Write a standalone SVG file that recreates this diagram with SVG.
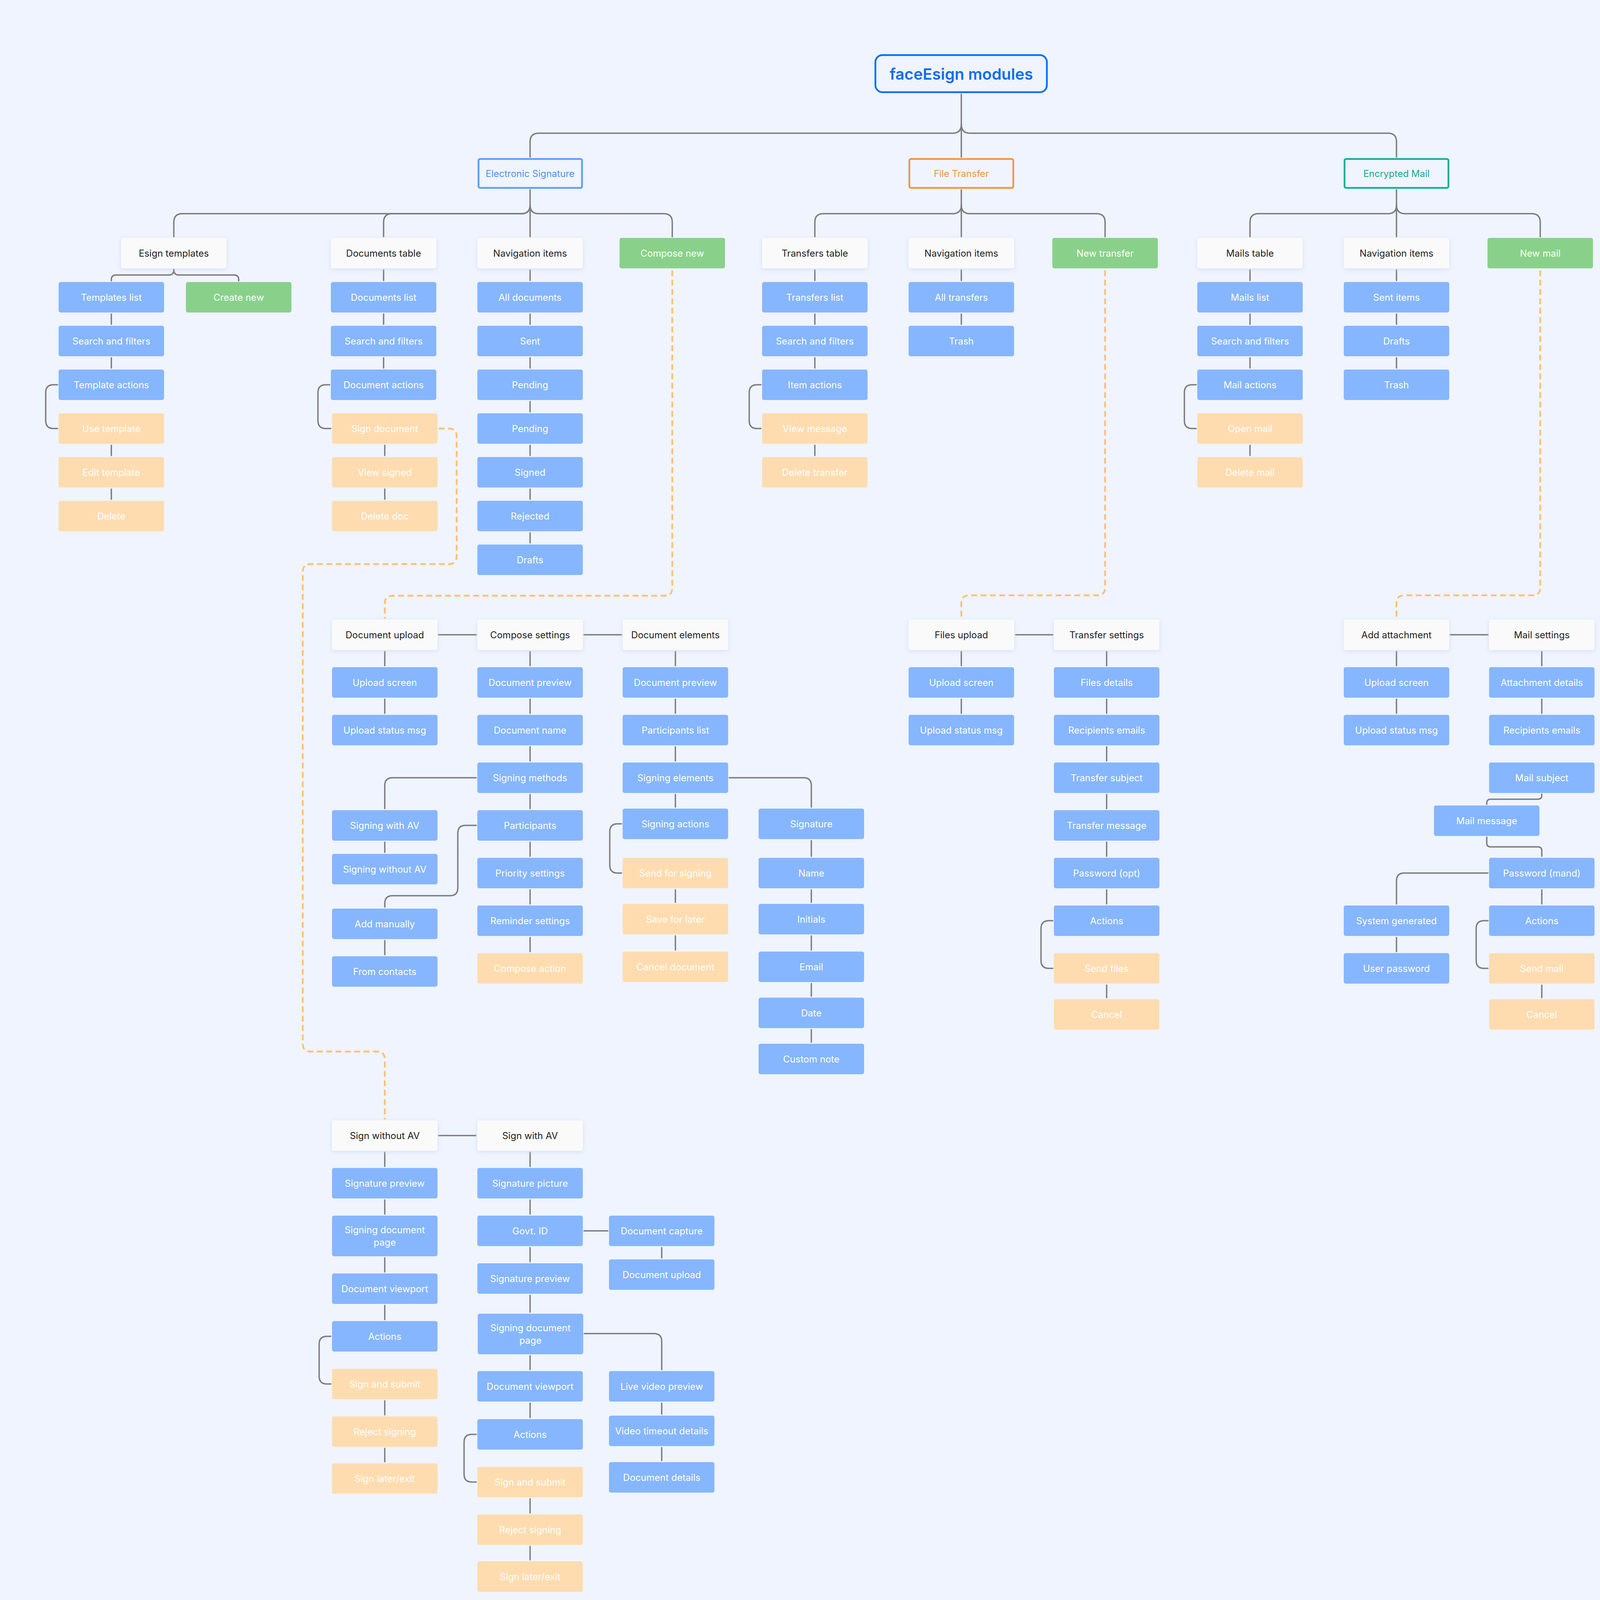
<svg xmlns="http://www.w3.org/2000/svg" width="4209" height="4201" viewBox="0 0 4209 4201">
<defs>
<filter id="sh" x="-20%" y="-30%" width="140%" height="170%"><feDropShadow dx="0" dy="3" stdDeviation="6" flood-color="#C4D2F2" flood-opacity="0.6"/></filter>
</defs>
<style>
.b{fill:#86B6FF}
.p{fill:#FFDCB0}
.g{fill:#89D18A}
.w{fill:#FAFAFA;filter:url(#sh)}
text{font-family:Inter,"Noto Sans","Liberation Sans",sans-serif;font-size:24px;text-anchor:middle;dominant-baseline:central;fill:#FFFFFF}
.dk{fill:#222222}
.c{fill:none;stroke:#7C7C80;stroke-width:3.5;stroke-linecap:round}
.ds{fill:none;stroke:#FFBF74;stroke-width:4.5;stroke-dasharray:15 9}
.l1{fill:none;stroke-width:4.5}
</style>
<rect x="0" y="0" width="4209" height="4201" fill="#EFF4FE"/>

<g id="connectors">
<path class="c" d="M2461 241 V402"/>
<path class="c" d="M2461 318 Q2461 341 2439 341 H1379 Q1357 341 1357 363 V402"/>
<path class="c" d="M2461 318 Q2461 341 2483 341 H3553 Q3575 341 3575 363 V402"/>
<path class="c" d="M1357 486 V606"/>
<path class="c" d="M1357 525 Q1357 547 1335 547 H467 Q445 547 445 569 V606"/>
<path class="c" d="M1357 525 Q1357 547 1335 547 H1004 Q982 547 982 569 V606"/>
<path class="c" d="M1357 525 Q1357 547 1379 547 H1699 Q1721 547 1721 569 V606"/>
<path class="c" d="M2461 486 V606"/>
<path class="c" d="M2461 525 Q2461 547 2439 547 H2108 Q2086 547 2086 569 V606"/>
<path class="c" d="M2461 525 Q2461 547 2483 547 H2807 Q2829 547 2829 569 V606"/>
<path class="c" d="M3575 486 V606"/>
<path class="c" d="M3575 525 Q3575 547 3553 547 H3222 Q3200 547 3200 569 V606"/>
<path class="c" d="M3575 525 Q3575 547 3597 547 H3921 Q3943 547 3943 569 V606"/>
<path class="c" d="M445 690 Q445 704 433 704 H297 Q285 704 285 716 V719"/>
<path class="c" d="M445 690 Q445 704 457 704 H599 Q611 704 611 716 V719"/>
<path class="c" d="M285 804 V830 M285 916 V942 M285 1140 V1166 M285 1252 V1278"/>
<path class="c" d="M147 985 H137 Q117 985 117 1005 V1077 Q117 1097 137 1097 H147"/>
<path class="c" d="M982 691 V718 M982 804 V830 M982 916 V942 M985 1140 V1166 M985 1252 V1278"/>
<path class="c" d="M844 985 H834 Q814 985 814 1005 V1077 Q814 1097 834 1097 H847"/>
<path class="c" d="M1357 691 V718 M1357 804 V830 M1357 916 V942 M1357 1028 V1054 M1357 1140 V1166 M1357 1252 V1278 M1357 1364 V1390"/>
<path class="c" d="M2086 691 V718 M2086 804 V830 M2086 916 V942 M2086 1140 V1166"/>
<path class="c" d="M1948 985 H1938 Q1918 985 1918 1005 V1077 Q1918 1097 1938 1097 H1948"/>
<path class="c" d="M2461 691 V718 M2461 804 V830"/>
<path class="c" d="M3200 691 V718 M3200 804 V830 M3200 916 V942 M3200 1140 V1166"/>
<path class="c" d="M3062 985 H3052 Q3032 985 3032 1005 V1077 Q3032 1097 3052 1097 H3062"/>
<path class="c" d="M3575 691 V718 M3575 804 V830 M3575 916 V942"/>
<path class="c" d="M1123 1625 H1219 M1495 1625 H1591"/>
<path class="c" d="M985 1668 V1704 M985 1790 V1826"/>
<path class="c" d="M1357 1668 V1704 M1357 1790 V1826 M1357 1912 V1948 M1357 2034 V2070 M1357 2156 V2192 M1357 2278 V2314 M1357 2400 V2436"/>
<path class="c" d="M985 2156 V2182 M985 2408 V2444"/>
<path class="c" d="M1219 1991 H1005 Q985 1991 985 2011 V2070"/>
<path class="c" d="M1219 2113 H1192 Q1172 2113 1172 2133 V2273 Q1172 2293 1152 2293 H1005 Q985 2293 985 2313 V2322"/>
<path class="c" d="M1729 1668 V1704 M1729 1790 V1826 M1729 1912 V1948 M1729 2034 V2066 M1729 2278 V2310 M1729 2396 V2432"/>
<path class="c" d="M1591 2109 H1581 Q1561 2109 1561 2129 V2215 Q1561 2235 1581 2235 H1591"/>
<path class="c" d="M1867 1991 H2057 Q2077 1991 2077 2011 V2066"/>
<path class="c" d="M2077 2152 V2192 M2077 2278 V2310 M2077 2396 V2432 M2077 2518 V2550 M2077 2636 V2668"/>
<path class="c" d="M2600 1625 H2695"/>
<path class="c" d="M2461 1668 V1704 M2461 1790 V1826"/>
<path class="c" d="M2833 1668 V1704 M2833 1790 V1826 M2833 1912 V1948 M2833 2034 V2070 M2833 2156 V2192 M2833 2278 V2314 M2833 2522 V2554"/>
<path class="c" d="M2695 2357 H2685 Q2665 2357 2665 2377 V2459 Q2665 2479 2685 2479 H2695"/>
<path class="c" d="M3713 1625 H3809"/>
<path class="c" d="M3575 1668 V1704 M3575 1790 V1826 M3575 2400 V2436"/>
<path class="c" d="M3947 1668 V1704 M3947 1790 V1826 M3947 2278 V2314 M3947 2522 V2554"/>
<path class="c" d="M3947 2033 V2036 Q3947 2046 3937 2046 H3816 Q3806 2046 3806 2056 V2059"/>
<path class="c" d="M3806 2143 V2158 Q3806 2168 3816 2168 H3937 Q3947 2168 3947 2178 V2192"/>
<path class="c" d="M3809 2235 H3595 Q3575 2235 3575 2255 V2314"/>
<path class="c" d="M3809 2357 H3799 Q3779 2357 3779 2377 V2459 Q3779 2479 3799 2479 H3809"/>
<path class="c" d="M1123 2907 H1218"/>
<path class="c" d="M985 2950 V2986 M985 3072 V3108 M985 3220 V3256 M985 3342 V3378 M985 3586 V3622 M985 3708 V3742"/>
<path class="c" d="M847 3421 H837 Q817 3421 817 3441 V3523 Q817 3543 837 3543 H847"/>
<path class="c" d="M1357 2950 V2986 M1357 3072 V3108 M1357 3194 V3230 M1357 3316 V3359 M1357 3471 V3506 M1357 3592 V3629 M1357 3837 V3873 M1357 3959 V3993"/>
<path class="c" d="M1219 3672 H1208 Q1188 3672 1188 3692 V3774 Q1188 3794 1208 3794 H1219"/>
<path class="c" d="M1495 3151 H1556"/>
<path class="c" d="M1694 3194 V3220 M1694 3592 V3620 M1694 3706 V3739"/>
<path class="c" d="M1496 3414 H1674 Q1694 3414 1694 3434 V3506"/>
<path class="ds" d="M1721 692 V1505 Q1721 1525 1701 1525 H1005 Q985 1525 985 1545 V1584"/>
<path class="ds" d="M1123 1097 H1149 Q1169 1097 1169 1117 V1424 Q1169 1444 1149 1444 H795 Q775 1444 775 1464 V2672 Q775 2692 795 2692 H965 Q985 2692 985 2712 V2866"/>
<path class="ds" d="M2829 692 V1504 Q2829 1524 2809 1524 H2481 Q2461 1524 2461 1544 V1584"/>
<path class="ds" d="M3943 692 V1504 Q3943 1524 3923 1524 H3595 Q3575 1524 3575 1544 V1584"/>
</g>

<g id="n-title"><rect x="2241" y="141" width="439" height="95" rx="18" fill="none" stroke="#0B6CFF" stroke-width="4.5"/><text x="2461" y="189" style="font-size:40px;font-weight:600;fill:#0B6CF5">faceEsign modules</text></g>
<g id="n-es"><rect class="l1" x="1225" y="407" width="265" height="74" rx="4" stroke="#5E9DF8"/><text x="1357" y="444" style="fill:#4C92F2">Electronic Signature</text></g>
<g id="n-ft"><rect class="l1" x="2328" y="407" width="266" height="74" rx="4" stroke="#F2963C"/><text x="2461" y="444" style="fill:#F0963D">File Transfer</text></g>
<g id="n-em"><rect class="l1" x="3442" y="407" width="266" height="74" rx="4" stroke="#15AE96"/><text x="3575" y="444" style="fill:#12AA92">Encrypted Mail</text></g>

<g id="n-esign-templates"><rect class="w" x="310" y="609" width="270" height="78" rx="5"/><text class="dk" x="445" y="648">Esign templates</text></g>
<g id="n-documents-table"><rect class="w" x="847" y="609" width="270" height="78" rx="5"/><text class="dk" x="982" y="648">Documents table</text></g>
<g id="n-es-nav"><rect class="w" x="1222" y="609" width="270" height="78" rx="5"/><text class="dk" x="1357" y="648">Navigation items</text></g>
<g id="n-compose-new"><rect class="g" x="1586" y="609" width="270" height="78" rx="5"/><text x="1721" y="648">Compose new</text></g>
<g id="n-transfers-table"><rect class="w" x="1951" y="609" width="270" height="78" rx="5"/><text class="dk" x="2086" y="648">Transfers table</text></g>
<g id="n-ft-nav"><rect class="w" x="2326" y="609" width="270" height="78" rx="5"/><text class="dk" x="2461" y="648">Navigation items</text></g>
<g id="n-new-transfer"><rect class="g" x="2694" y="609" width="270" height="78" rx="5"/><text x="2829" y="648">New transfer</text></g>
<g id="n-mails-table"><rect class="w" x="3065" y="609" width="270" height="78" rx="5"/><text class="dk" x="3200" y="648">Mails table</text></g>
<g id="n-em-nav"><rect class="w" x="3440" y="609" width="270" height="78" rx="5"/><text class="dk" x="3575" y="648">Navigation items</text></g>
<g id="n-new-mail"><rect class="g" x="3808" y="609" width="270" height="78" rx="5"/><text x="3943" y="648">New mail</text></g>

<g id="n-templates-list"><rect class="b" x="150" y="722" width="270" height="78" rx="5"/><text x="285" y="761">Templates list</text></g>
<g id="n-create-new"><rect class="g" x="476" y="722" width="270" height="78" rx="5"/><text x="611" y="761">Create new</text></g>
<g id="n-t-search"><rect class="b" x="150" y="834" width="270" height="78" rx="5"/><text x="285" y="873">Search and filters</text></g>
<g id="n-template-actions"><rect class="b" x="150" y="946" width="270" height="78" rx="5"/><text x="285" y="985">Template actions</text></g>
<g id="n-use-template"><rect class="p" x="150" y="1058" width="270" height="78" rx="5"/><text x="285" y="1097">Use template</text></g>
<g id="n-edit-template"><rect class="p" x="150" y="1170" width="270" height="78" rx="5"/><text x="285" y="1209">Edit template</text></g>
<g id="n-delete"><rect class="p" x="150" y="1282" width="270" height="78" rx="5"/><text x="285" y="1321">Delete</text></g>

<g id="n-documents-list"><rect class="b" x="847" y="722" width="270" height="78" rx="5"/><text x="982" y="761">Documents list</text></g>
<g id="n-d-search"><rect class="b" x="847" y="834" width="270" height="78" rx="5"/><text x="982" y="873">Search and filters</text></g>
<g id="n-document-actions"><rect class="b" x="847" y="946" width="270" height="78" rx="5"/><text x="982" y="985">Document actions</text></g>
<g id="n-sign-document"><rect class="p" x="850" y="1058" width="270" height="78" rx="5"/><text x="985" y="1097">Sign document</text></g>
<g id="n-view-signed"><rect class="p" x="850" y="1170" width="270" height="78" rx="5"/><text x="985" y="1209">View signed</text></g>
<g id="n-delete-doc"><rect class="p" x="850" y="1282" width="270" height="78" rx="5"/><text x="985" y="1321">Delete doc</text></g>

<g id="n-all-documents"><rect class="b" x="1222" y="722" width="270" height="78" rx="5"/><text x="1357" y="761">All documents</text></g>
<g id="n-sent"><rect class="b" x="1222" y="834" width="270" height="78" rx="5"/><text x="1357" y="873">Sent</text></g>
<g id="n-pending-1"><rect class="b" x="1222" y="946" width="270" height="78" rx="5"/><text x="1357" y="985">Pending</text></g>
<g id="n-pending-2"><rect class="b" x="1222" y="1058" width="270" height="78" rx="5"/><text x="1357" y="1097">Pending</text></g>
<g id="n-signed"><rect class="b" x="1222" y="1170" width="270" height="78" rx="5"/><text x="1357" y="1209">Signed</text></g>
<g id="n-rejected"><rect class="b" x="1222" y="1282" width="270" height="78" rx="5"/><text x="1357" y="1321">Rejected</text></g>
<g id="n-drafts"><rect class="b" x="1222" y="1394" width="270" height="78" rx="5"/><text x="1357" y="1433">Drafts</text></g>

<g id="n-transfers-list"><rect class="b" x="1951" y="722" width="270" height="78" rx="5"/><text x="2086" y="761">Transfers list</text></g>
<g id="n-tr-search"><rect class="b" x="1951" y="834" width="270" height="78" rx="5"/><text x="2086" y="873">Search and filters</text></g>
<g id="n-item-actions"><rect class="b" x="1951" y="946" width="270" height="78" rx="5"/><text x="2086" y="985">Item actions</text></g>
<g id="n-view-message"><rect class="p" x="1951" y="1058" width="270" height="78" rx="5"/><text x="2086" y="1097">View message</text></g>
<g id="n-delete-transfer"><rect class="p" x="1951" y="1170" width="270" height="78" rx="5"/><text x="2086" y="1209">Delete transfer</text></g>

<g id="n-all-transfers"><rect class="b" x="2326" y="722" width="270" height="78" rx="5"/><text x="2461" y="761">All transfers</text></g>
<g id="n-ft-trash"><rect class="b" x="2326" y="834" width="270" height="78" rx="5"/><text x="2461" y="873">Trash</text></g>

<g id="n-mails-list"><rect class="b" x="3065" y="722" width="270" height="78" rx="5"/><text x="3200" y="761">Mails list</text></g>
<g id="n-m-search"><rect class="b" x="3065" y="834" width="270" height="78" rx="5"/><text x="3200" y="873">Search and filters</text></g>
<g id="n-mail-actions"><rect class="b" x="3065" y="946" width="270" height="78" rx="5"/><text x="3200" y="985">Mail actions</text></g>
<g id="n-open-mail"><rect class="p" x="3065" y="1058" width="270" height="78" rx="5"/><text x="3200" y="1097">Open mail</text></g>
<g id="n-delete-mail"><rect class="p" x="3065" y="1170" width="270" height="78" rx="5"/><text x="3200" y="1209">Delete mail</text></g>

<g id="n-sent-items"><rect class="b" x="3440" y="722" width="270" height="78" rx="5"/><text x="3575" y="761">Sent items</text></g>
<g id="n-m-drafts"><rect class="b" x="3440" y="834" width="270" height="78" rx="5"/><text x="3575" y="873">Drafts</text></g>
<g id="n-m-trash"><rect class="b" x="3440" y="946" width="270" height="78" rx="5"/><text x="3575" y="985">Trash</text></g>

<g id="n-document-upload"><rect class="w" x="850" y="1586" width="270" height="78" rx="5"/><text class="dk" x="985" y="1625">Document upload</text></g>
<g id="n-du-upload-screen"><rect class="b" x="850" y="1708" width="270" height="78" rx="5"/><text x="985" y="1747">Upload screen</text></g>
<g id="n-du-status"><rect class="b" x="850" y="1830" width="270" height="78" rx="5"/><text x="985" y="1869">Upload status msg</text></g>
<g id="n-compose-settings"><rect class="w" x="1222" y="1586" width="270" height="78" rx="5"/><text class="dk" x="1357" y="1625">Compose settings</text></g>
<g id="n-cs-preview"><rect class="b" x="1222" y="1708" width="270" height="78" rx="5"/><text x="1357" y="1747">Document preview</text></g>
<g id="n-document-name"><rect class="b" x="1222" y="1830" width="270" height="78" rx="5"/><text x="1357" y="1869">Document name</text></g>
<g id="n-signing-methods"><rect class="b" x="1222" y="1952" width="270" height="78" rx="5"/><text x="1357" y="1991">Signing methods</text></g>
<g id="n-participants"><rect class="b" x="1222" y="2074" width="270" height="78" rx="5"/><text x="1357" y="2113">Participants</text></g>
<g id="n-priority"><rect class="b" x="1222" y="2196" width="270" height="78" rx="5"/><text x="1357" y="2235">Priority settings</text></g>
<g id="n-reminder"><rect class="b" x="1222" y="2318" width="270" height="78" rx="5"/><text x="1357" y="2357">Reminder settings</text></g>
<g id="n-compose-action"><rect class="p" x="1222" y="2440" width="270" height="78" rx="5"/><text x="1357" y="2479">Compose action</text></g>
<g id="n-signing-with-av"><rect class="b" x="850" y="2074" width="270" height="78" rx="5"/><text x="985" y="2113">Signing with AV</text></g>
<g id="n-signing-without-av"><rect class="b" x="850" y="2186" width="270" height="78" rx="5"/><text x="985" y="2225">Signing without AV</text></g>
<g id="n-add-manually"><rect class="b" x="850" y="2326" width="270" height="78" rx="5"/><text x="985" y="2365">Add manually</text></g>
<g id="n-from-contacts"><rect class="b" x="850" y="2448" width="270" height="78" rx="5"/><text x="985" y="2487">From contacts</text></g>
<g id="n-document-elements"><rect class="w" x="1594" y="1586" width="270" height="78" rx="5"/><text class="dk" x="1729" y="1625">Document elements</text></g>
<g id="n-de-preview"><rect class="b" x="1594" y="1708" width="270" height="78" rx="5"/><text x="1729" y="1747">Document preview</text></g>
<g id="n-participants-list"><rect class="b" x="1594" y="1830" width="270" height="78" rx="5"/><text x="1729" y="1869">Participants list</text></g>
<g id="n-signing-elements"><rect class="b" x="1594" y="1952" width="270" height="78" rx="5"/><text x="1729" y="1991">Signing elements</text></g>
<g id="n-signing-actions"><rect class="b" x="1594" y="2070" width="270" height="78" rx="5"/><text x="1729" y="2109">Signing actions</text></g>
<g id="n-send-for-signing"><rect class="p" x="1594" y="2196" width="270" height="78" rx="5"/><text x="1729" y="2235">Send for signing</text></g>
<g id="n-save-for-later"><rect class="p" x="1594" y="2314" width="270" height="78" rx="5"/><text x="1729" y="2353">Save for later</text></g>
<g id="n-cancel-document"><rect class="p" x="1594" y="2436" width="270" height="78" rx="5"/><text x="1729" y="2475">Cancel document</text></g>
<g id="n-signature"><rect class="b" x="1942" y="2070" width="270" height="78" rx="5"/><text x="2077" y="2109">Signature</text></g>
<g id="n-name"><rect class="b" x="1942" y="2196" width="270" height="78" rx="5"/><text x="2077" y="2235">Name</text></g>
<g id="n-initials"><rect class="b" x="1942" y="2314" width="270" height="78" rx="5"/><text x="2077" y="2353">Initials</text></g>
<g id="n-email"><rect class="b" x="1942" y="2436" width="270" height="78" rx="5"/><text x="2077" y="2475">Email</text></g>
<g id="n-date"><rect class="b" x="1942" y="2554" width="270" height="78" rx="5"/><text x="2077" y="2593">Date</text></g>
<g id="n-custom-note"><rect class="b" x="1942" y="2672" width="270" height="78" rx="5"/><text x="2077" y="2711">Custom note</text></g>

<g id="n-files-upload"><rect class="w" x="2326" y="1586" width="270" height="78" rx="5"/><text class="dk" x="2461" y="1625">Files upload</text></g>
<g id="n-fu-upload-screen"><rect class="b" x="2326" y="1708" width="270" height="78" rx="5"/><text x="2461" y="1747">Upload screen</text></g>
<g id="n-fu-status"><rect class="b" x="2326" y="1830" width="270" height="78" rx="5"/><text x="2461" y="1869">Upload status msg</text></g>
<g id="n-transfer-settings"><rect class="w" x="2698" y="1586" width="270" height="78" rx="5"/><text class="dk" x="2833" y="1625">Transfer settings</text></g>
<g id="n-files-details"><rect class="b" x="2698" y="1708" width="270" height="78" rx="5"/><text x="2833" y="1747">Files details</text></g>
<g id="n-t-recipients"><rect class="b" x="2698" y="1830" width="270" height="78" rx="5"/><text x="2833" y="1869">Recipients emails</text></g>
<g id="n-transfer-subject"><rect class="b" x="2698" y="1952" width="270" height="78" rx="5"/><text x="2833" y="1991">Transfer subject</text></g>
<g id="n-transfer-message"><rect class="b" x="2698" y="2074" width="270" height="78" rx="5"/><text x="2833" y="2113">Transfer message</text></g>
<g id="n-password-opt"><rect class="b" x="2698" y="2196" width="270" height="78" rx="5"/><text x="2833" y="2235">Password (opt)</text></g>
<g id="n-t-actions"><rect class="b" x="2698" y="2318" width="270" height="78" rx="5"/><text x="2833" y="2357">Actions</text></g>
<g id="n-send-files"><rect class="p" x="2698" y="2440" width="270" height="78" rx="5"/><text x="2833" y="2479">Send files</text></g>
<g id="n-t-cancel"><rect class="p" x="2698" y="2558" width="270" height="78" rx="5"/><text x="2833" y="2597">Cancel</text></g>

<g id="n-add-attachment"><rect class="w" x="3440" y="1586" width="270" height="78" rx="5"/><text class="dk" x="3575" y="1625">Add attachment</text></g>
<g id="n-aa-upload-screen"><rect class="b" x="3440" y="1708" width="270" height="78" rx="5"/><text x="3575" y="1747">Upload screen</text></g>
<g id="n-aa-status"><rect class="b" x="3440" y="1830" width="270" height="78" rx="5"/><text x="3575" y="1869">Upload status msg</text></g>
<g id="n-mail-settings"><rect class="w" x="3812" y="1586" width="270" height="78" rx="5"/><text class="dk" x="3947" y="1625">Mail settings</text></g>
<g id="n-attachment-details"><rect class="b" x="3812" y="1708" width="270" height="78" rx="5"/><text x="3947" y="1747">Attachment details</text></g>
<g id="n-m-recipients"><rect class="b" x="3812" y="1830" width="270" height="78" rx="5"/><text x="3947" y="1869">Recipients emails</text></g>
<g id="n-mail-subject"><rect class="b" x="3812" y="1952" width="270" height="78" rx="5"/><text x="3947" y="1991">Mail subject</text></g>
<g id="n-mail-message"><rect class="b" x="3671" y="2062" width="270" height="78" rx="5"/><text x="3806" y="2101">Mail message</text></g>
<g id="n-password-mand"><rect class="b" x="3812" y="2196" width="270" height="78" rx="5"/><text x="3947" y="2235">Password (mand)</text></g>
<g id="n-m-actions"><rect class="b" x="3812" y="2318" width="270" height="78" rx="5"/><text x="3947" y="2357">Actions</text></g>
<g id="n-send-mail"><rect class="p" x="3812" y="2440" width="270" height="78" rx="5"/><text x="3947" y="2479">Send mail</text></g>
<g id="n-m-cancel"><rect class="p" x="3812" y="2558" width="270" height="78" rx="5"/><text x="3947" y="2597">Cancel</text></g>
<g id="n-system-generated"><rect class="b" x="3440" y="2318" width="270" height="78" rx="5"/><text x="3575" y="2357">System generated</text></g>
<g id="n-user-password"><rect class="b" x="3440" y="2440" width="270" height="78" rx="5"/><text x="3575" y="2479">User password</text></g>

<g id="n-sign-without-av"><rect class="w" x="850" y="2868" width="270" height="78" rx="5"/><text class="dk" x="985" y="2907">Sign without AV</text></g>
<g id="n-swo-sig-preview"><rect class="b" x="850" y="2990" width="270" height="78" rx="5"/><text x="985" y="3029">Signature preview</text></g>
<g id="n-swo-sdp"><rect class="b" x="850" y="3112" width="270" height="104" rx="5"/><text x="985" y="3148">Signing document</text><text x="985" y="3180">page</text></g>
<g id="n-swo-viewport"><rect class="b" x="850" y="3260" width="270" height="78" rx="5"/><text x="985" y="3299">Document viewport</text></g>
<g id="n-swo-actions"><rect class="b" x="850" y="3382" width="270" height="78" rx="5"/><text x="985" y="3421">Actions</text></g>
<g id="n-swo-submit"><rect class="p" x="850" y="3504" width="270" height="78" rx="5"/><text x="985" y="3543">Sign and submit</text></g>
<g id="n-swo-reject"><rect class="p" x="850" y="3626" width="270" height="78" rx="5"/><text x="985" y="3665">Reject signing</text></g>
<g id="n-swo-later"><rect class="p" x="850" y="3746" width="270" height="78" rx="5"/><text x="985" y="3785">Sign later/exit</text></g>

<g id="n-sign-with-av"><rect class="w" x="1222" y="2868" width="270" height="78" rx="5"/><text class="dk" x="1357" y="2907">Sign with AV</text></g>
<g id="n-sw-sig-picture"><rect class="b" x="1222" y="2990" width="270" height="78" rx="5"/><text x="1357" y="3029">Signature picture</text></g>
<g id="n-govt-id"><rect class="b" x="1222" y="3112" width="270" height="78" rx="5"/><text x="1357" y="3151">Govt. ID</text></g>
<g id="n-sw-sig-preview"><rect class="b" x="1222" y="3234" width="270" height="78" rx="5"/><text x="1357" y="3273">Signature preview</text></g>
<g id="n-sw-sdp"><rect class="b" x="1223" y="3363" width="270" height="104" rx="5"/><text x="1358" y="3399">Signing document</text><text x="1358" y="3431">page</text></g>
<g id="n-sw-viewport"><rect class="b" x="1222" y="3510" width="270" height="78" rx="5"/><text x="1357" y="3549">Document viewport</text></g>
<g id="n-sw-actions"><rect class="b" x="1222" y="3633" width="270" height="78" rx="5"/><text x="1357" y="3672">Actions</text></g>
<g id="n-sw-submit"><rect class="p" x="1222" y="3755" width="270" height="78" rx="5"/><text x="1357" y="3794">Sign and submit</text></g>
<g id="n-sw-reject"><rect class="p" x="1222" y="3877" width="270" height="78" rx="5"/><text x="1357" y="3916">Reject signing</text></g>
<g id="n-sw-later"><rect class="p" x="1222" y="3997" width="270" height="78" rx="5"/><text x="1357" y="4036">Sign later/exit</text></g>

<g id="n-document-capture"><rect class="b" x="1559" y="3112" width="270" height="78" rx="5"/><text x="1694" y="3151">Document capture</text></g>
<g id="n-sw-document-upload"><rect class="b" x="1559" y="3224" width="270" height="78" rx="5"/><text x="1694" y="3263">Document upload</text></g>
<g id="n-live-video"><rect class="b" x="1559" y="3510" width="270" height="78" rx="5"/><text x="1694" y="3549">Live video preview</text></g>
<g id="n-video-timeout"><rect class="b" x="1559" y="3624" width="270" height="78" rx="5"/><text x="1694" y="3663">Video timeout details</text></g>
<g id="n-document-details"><rect class="b" x="1559" y="3743" width="270" height="78" rx="5"/><text x="1694" y="3782">Document details</text></g>
</svg>
